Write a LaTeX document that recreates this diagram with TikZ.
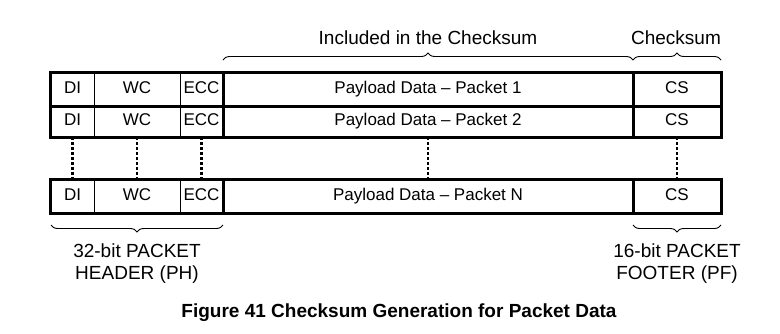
\documentclass[tikz,border=0pt]{standalone}
\usepackage{fontspec}
\setmainfont{Liberation Sans}
\usetikzlibrary{decorations.pathreplacing}

\begin{document}
\begin{tikzpicture}[x=1pt,y=-1pt,
  cell/.style={inner sep=0pt,minimum width=#1,text height=12.2pt,text depth=3.6pt,
    font=\fontsize{17pt}{20pt}\selectfont},
  lbl/.style={inner sep=0pt,align=center,font=\fontsize{19pt}{22pt}\selectfont},
  frame/.style={line width=3pt,line join=miter},
  thinrule/.style={line width=1pt},
  link/.style={line width=2.6pt,dash pattern=on 3pt off 2pt},
  brc/.style={line width=0.9pt,decorate,decoration={brace,amplitude=7pt}}]
\useasboundingbox (0,0) rectangle (780,333);

% one row of cells: DI | WC | ECC | payload | CS
\foreach \r/\y/\h/\t in {a/89.5/33/1, b/121.5/31/2, n/196.5/33/N}{
  \node[cell=43pt, minimum height=\h pt] (\r di)  at (72.5,\y) {DI};
  \node[cell=86pt, minimum height=\h pt] (\r wc)  at (137,\y)  {WC};
  \node[cell=43pt, minimum height=\h pt] (\r ecc) at (201.5,\y) {ECC};
  \node[cell=410pt,minimum height=\h pt] (\r pl)  at (428,\y)  {Payload Data -- Packet \t};
  \node[cell=88pt, minimum height=\h pt] (\r cs)  at (677,\y)  {CS};
}

% frames of the first two packets
\draw[frame] (adi.north west) rectangle (bcs.south east);
\draw[frame] (adi.south west) -- (acs.south east);
\draw[frame] (aecc.north east) -- (becc.south east);
\draw[frame] (apl.north east) -- (bpl.south east);
\draw[thinrule] (adi.north east) -- (bdi.south east);
\draw[thinrule] (awc.north east) -- (bwc.south east);

% frame of packet N
\draw[frame] (ndi.north west) rectangle (ncs.south east);
\draw[frame] (necc.north east) -- (necc.south east);
\draw[frame] (npl.north east) -- (npl.south east);
\draw[thinrule] (ndi.north east) -- (ndi.south east);
\draw[thinrule] (nwc.north east) -- (nwc.south east);

% dotted continuation between packet 2 and packet N
\foreach \c in {di,wc,ecc,pl,cs}
  \draw[link] (b\c.south) -- (n\c.north);

% braces above
\coordinate (tl) at (223,60);
\coordinate (tm) at (633,60);
\coordinate (tr) at (721,60);
\draw[brc] (tl) -- (tm);
\draw[brc] (tm) -- (tr);
\node[lbl] (inc) at (428,38) {Included in the Checksum};
\node[lbl] (chk) at (676,38) {Checksum};

% braces below
\coordinate (bl) at (51,225);
\coordinate (bm) at (223,225);
\coordinate (bn) at (633,225);
\coordinate (br) at (721,225);
\draw[brc] (bm) -- (bl);
\draw[brc] (br) -- (bn);
\node[lbl] (ph) at (137,264) {32-bit PACKET\\HEADER (PH)};
\node[lbl] (pf) at (677,264) {16-bit PACKET\\FOOTER (PF)};

% caption
\node[lbl,font=\fontsize{19pt}{22pt}\selectfont\bfseries] (cap) at (399,313)
  {Figure 41 Checksum Generation for Packet Data};
\end{tikzpicture}
\end{document}
